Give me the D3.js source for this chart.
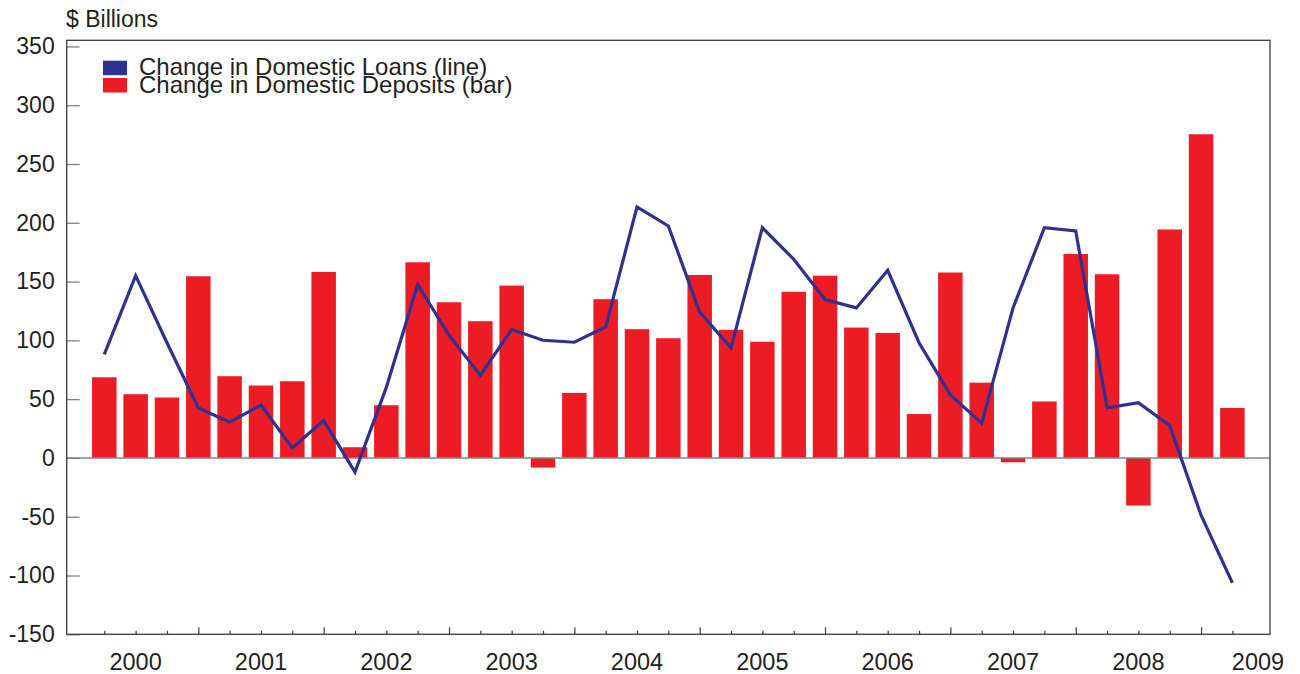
<!DOCTYPE html>
<html>
<head>
<meta charset="utf-8">
<script src="https://cdn.jsdelivr.net/npm/d3@7"></script>
<style>
  html, body { margin: 0; padding: 0; background: #fff; }
  svg { display: block; font-family: "Liberation Sans", Arial, Helvetica, sans-serif; }
</style>
</head>
<body>
<svg id="chart" width="1300" height="674"></svg>
<script>
// Quarterly data, 2000 Q1 .. 2009 Q1
const years = ["2000","2001","2002","2003","2004","2005","2006","2007","2008","2009"];
const deposits = [
  68.6, 54.2, 51.4, 154.5,
  69.5, 61.6, 65.2, 158.2,
  9.1, 44.8, 166.4, 132.4,
  116.3, 146.6, -8.2, 55.3,
  135, 109.5, 101.8, 155.6,
  109, 98.8, 141.3, 155,
  110.9, 106.3, 37.3, 157.7,
  64, -3.7, 48, 173.5,
  156.2, -40.5, 194.3, 275.3,
  42.5
];
const loans = [
  88, 155, 98, 42.5,
  30.4, 45, 8.5, 31.8,
  -12, 60, 147.5, 104.4,
  70.3, 109.2, 100.1, 98.4,
  111.4, 213.5, 197.3, 124,
  93.6, 195.8, 169, 134.7,
  127.6, 159.6, 98, 53.6,
  29.6, 127.6, 195.8, 193,
  42.6, 46.9, 27.5, -48.7,
  -106.3
];
const yTicks = [-150, -100, -50, 0, 50, 100, 150, 200, 250, 300, 350];
const legendLabels = ["Change in Domestic Loans (line)", "Change in Domestic Deposits (bar)"];
const yTitle = "$ Billions";

const svg = d3.select("#chart");
const L = 66.7, R = 1270, T = 40.3, B = 634.3;
const textColor = "#231f20";
const red = "#ed1c24", blue = "#2e3192";

const x = d3.scaleLinear().domain([-1.2, 37.2]).range([L, R]);
const y = d3.scaleLinear().domain([-150, 355.2]).range([B, T]);
const idx = d3.range(deposits.length);
const barW = 24.5;

// bars
svg.append("g").selectAll("rect").data(deposits).join("rect")
  .attr("x", (d, i) => x(i) - barW / 2)
  .attr("width", barW)
  .attr("y", d => y(Math.max(0, d)))
  .attr("height", d => Math.abs(y(d) - y(0)))
  .attr("fill", red);

// zero line
svg.append("line")
  .attr("x1", L).attr("x2", R).attr("y1", y(0)).attr("y2", y(0))
  .attr("stroke", "#858585").attr("stroke-width", 1.6);

// loans line
svg.append("path")
  .datum(loans)
  .attr("fill", "none")
  .attr("stroke", blue)
  .attr("stroke-width", 3.2)
  .attr("stroke-linejoin", "miter")
  .attr("d", d3.line().x((d, i) => x(i)).y(d => y(d)));

// y axis
const yAxis = svg.append("g")
  .attr("transform", `translate(${L},0)`)
  .call(d3.axisLeft(y).tickValues(yTicks).tickSize(-13).tickPadding(12).tickFormat(d => String(d)));
yAxis.select(".domain").remove();
yAxis.selectAll(".tick line").attr("stroke", "#808080").attr("stroke-width", 1.3);
yAxis.selectAll(".tick text")
  .attr("fill", textColor)
  .style("font-size", "23px")
  .style("font-family", "'Liberation Sans', Arial, sans-serif");

// x axis: minor ticks (each quarter), major ticks (year ends)
const minorIdx = idx.filter(i => i % 4 !== 3);
const majorIdx = idx.filter(i => i % 4 === 3);
const xMinor = svg.append("g").attr("transform", `translate(0,${B})`)
  .call(d3.axisBottom(x).tickValues(minorIdx).tickSize(-3.5).tickFormat(""));
xMinor.select(".domain").remove();
xMinor.selectAll(".tick line").attr("stroke", "#3a3a3a").attr("stroke-width", 1.2);
const xMajor = svg.append("g").attr("transform", `translate(0,${B})`)
  .call(d3.axisBottom(x).tickValues(majorIdx).tickSize(-7).tickFormat(""));
xMajor.select(".domain").remove();
xMajor.selectAll(".tick line").attr("stroke", "#3a3a3a").attr("stroke-width", 1.2);

// year labels
svg.append("g").selectAll("text").data(years).join("text")
  .attr("x", (d, i) => Math.min(x(4 * i + 1), 1258))
  .attr("y", 670)
  .attr("text-anchor", "middle")
  .attr("fill", textColor)
  .style("font-size", "23.5px")
  .text(d => d);

// frame
svg.append("rect")
  .attr("x", L).attr("y", T).attr("width", R - L).attr("height", B - T)
  .attr("fill", "none").attr("stroke", "#3a3a3a").attr("stroke-width", 1.3);

// y title
svg.append("text")
  .attr("x", 66).attr("y", 27)
  .attr("fill", textColor)
  .style("font-size", "23px")
  .text(yTitle);

// legend
const legend = svg.append("g");
const legendColors = [blue, red];
const swY = [60.7, 78];
const txtY = [75, 92.5];
legendColors.forEach((c, i) => {
  legend.append("rect").attr("x", 103).attr("y", swY[i]).attr("width", 24).attr("height", 14.5).attr("fill", c);
  legend.append("text").attr("x", 139).attr("y", txtY[i])
    .attr("fill", textColor).style("font-size", "24px").text(legendLabels[i]);
});
</script>
</body>
</html>
